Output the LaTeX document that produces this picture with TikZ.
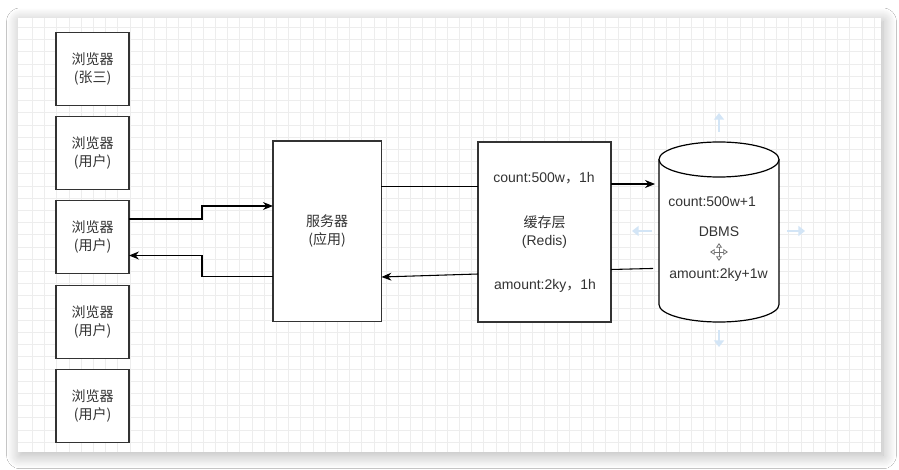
\documentclass[tikz,border=0pt]{standalone}
\usepackage{fontspec}
\setmainfont{Liberation Sans}
\newfontfamily\cjk{Noto Sans CJK SC}
\usetikzlibrary{arrows.meta, positioning, shadows.blur}

\definecolor{gridgray}{HTML}{EDEDED}
\definecolor{hintblue}{HTML}{D3E5F6}
\definecolor{txtgray}{HTML}{333333}

\begin{document}
\begin{tikzpicture}[x=0.75pt,y=-0.75pt,
  font=\fontsize{10.5}{13.5}\selectfont,
  zh/.style={font=\fontsize{10.5}{13.5}\selectfont\cjk},
  box/.style={draw=black!80, line width=0.9pt, fill=white, inner sep=0pt, outer sep=0pt, align=center, text=txtgray},
  browser/.style={box, zh, minimum width=54.75pt, minimum height=54.75pt},
  txt/.style={inner sep=0pt, text=txtgray},
  gridline/.style={gridgray, line width=0.5pt},
  conn/.style={line width=0.8pt, black},
  tip/.style={conn, -{Stealth[length=7.5pt, width=6pt, inset=2.5pt]}},
  hint/.style={hintblue, line width=2.2pt, -{Triangle[length=5pt, width=7.5pt]}},
  cursor/.style={black!55, line width=0.6pt, {Triangle[open, length=3.5pt, width=4.5pt]}-{Triangle[open, length=3.5pt, width=4.5pt]}}
]
\useasboundingbox (0,0) rectangle (899,470);
\fill[white] (0,0) rectangle (899,470);
\fill[white, blur shadow={shadow xshift=1.5pt, shadow yshift=-2.5pt, shadow blur radius=10pt, shadow blur steps=14, shadow opacity=30}] (18,18) rectangle (881,452);
\foreach \gx in {32.3,44.5,...,880} \draw[gridline] (\gx,18) -- (\gx,452);
\foreach \gy in {27.4,39.6,...,451} \draw[gridline] (18,\gy) -- (881,\gy);

\node[browser] (b1) at (92.5,68.7) {浏览器\\(张三)};
\node[browser] (b2) at (92.5,153.3) {浏览器\\(用户)};
\node[browser] (b3) at (92.5,237.3) {浏览器\\(用户)};
\node[browser] (b4) at (92.5,322) {浏览器\\(用户)};
\node[browser] (b5) at (92.5,406) {浏览器\\(用户)};

\node[box, zh, minimum width=81.4pt, minimum height=135.4pt] (srv) at (327.2,231.3) {服务器\\(应用)};
\node[box, minimum width=99.75pt, minimum height=135pt] (cache) at (544.5,232) {{\cjk 缓存层}\\(Redis)};
\node[txt] (cnt) at (544,178) {count:500w{\cjk ，}1h};
\node[txt] (amt) at (545,286) {amount:2ky{\cjk ，}1h};

\node[inner sep=0pt, outer sep=0pt, minimum width=90pt, minimum height=135pt] (dbms) at (719,232) {};
\filldraw[draw=black, fill=white, line width=0.9pt] ([yshift=-13.125pt]dbms.north west) -- ([yshift=13.125pt]dbms.south west) arc[start angle=180, end angle=360, x radius=45pt, y radius=13.125pt] -- ([yshift=-13.125pt]dbms.north east);
\filldraw[draw=black, fill=white, line width=0.9pt] ([yshift=-13.125pt]dbms.north) ellipse [x radius=45pt, y radius=13.125pt];
\node[txt] (dbmstxt) at (dbms.center) {DBMS};
\node[txt, anchor=west] (dcnt) at (668,202) {count:500w+1};
\node[txt, anchor=west] (damt) at (669,275) {amount:2ky+1w};

\draw[tip] (b3.east |- 0,219) -| (202,206) -- (srv.west |- 0,206);
\draw[tip] (srv.west |- 0,276.5) -| (202,255.5) -- (b3.east |- 0,255.5);
\draw[conn] (srv.east |- 0,186.5) -- (cache.west |- 0,186.5);
\draw[tip, shorten >=3pt] (cache.east |- 0,184) -- (dbms.west |- 0,184);
\draw[conn, shorten <=4.5pt] (dbms.west |- 0,268.3) -- (cache.east |- 0,269.5);
\draw[tip] (cache.west |- 0,274) -- (srv.east |- 0,277);

\draw[hint] (719,132) -- (719,113);
\draw[hint] (719,330) -- (719,347);
\draw[hint] (652,231) -- (632,231);
\draw[hint] (787,231) -- (805,231);
\draw[cursor] (710,252) -- (728,252);
\draw[cursor] (719,243) -- (719,261);
\end{tikzpicture}
\end{document}
